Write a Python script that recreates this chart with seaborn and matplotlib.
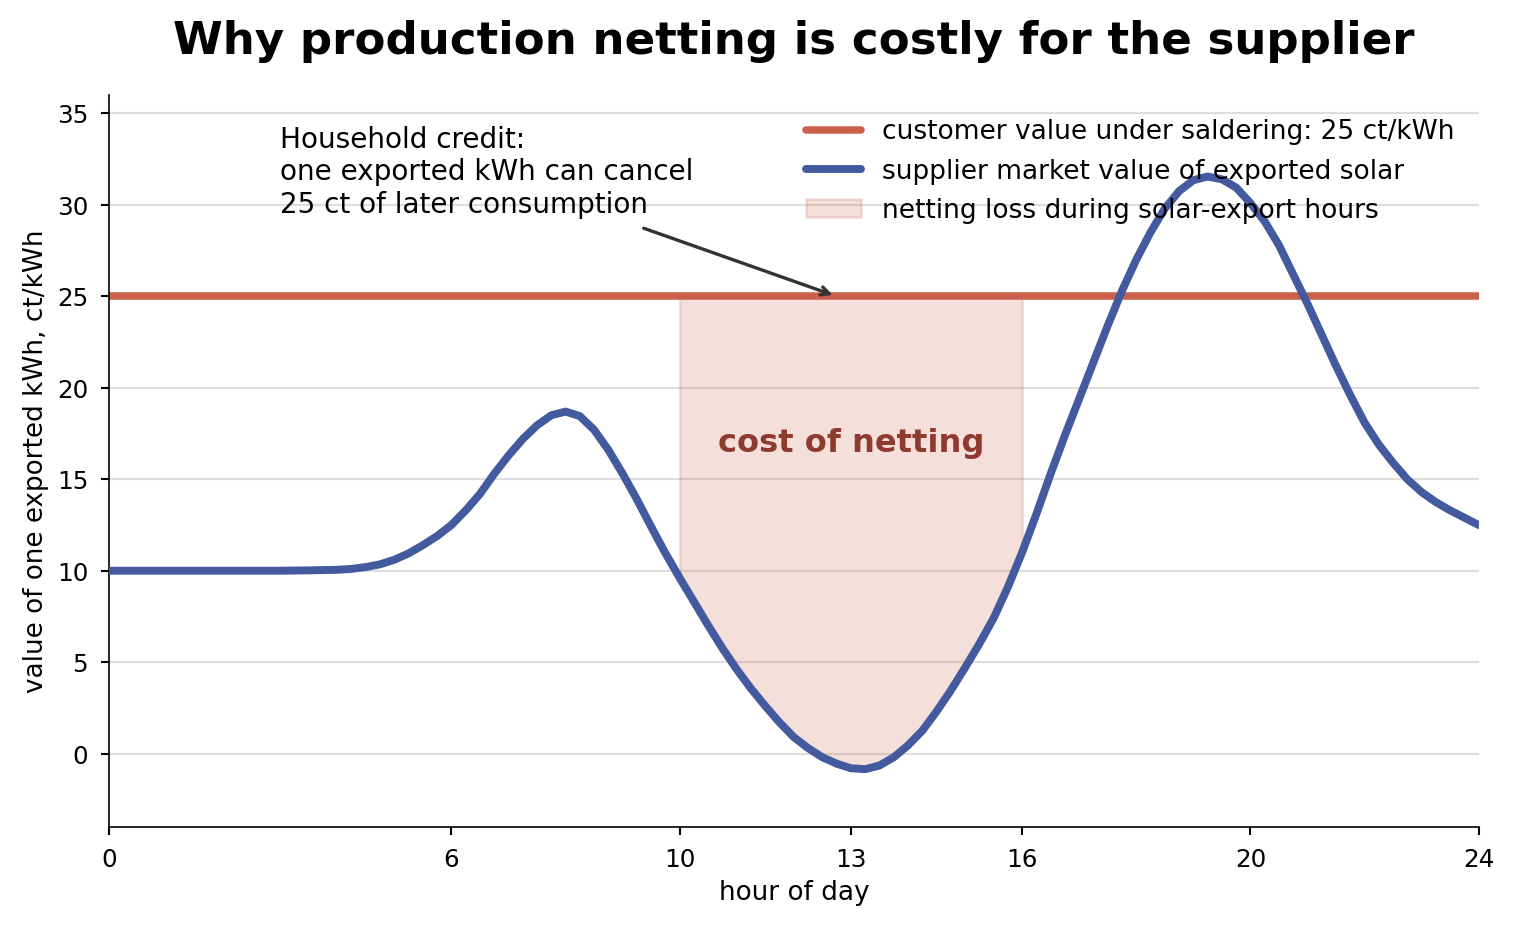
"""why production netting costs the supplier money"""

import numpy as np
import pandas as pd
import seaborn as sns
import matplotlib.pyplot as plt

# hour of day and the supplier's market value of exported solar, ct/kWh
hours = [0, 0.5, 1, 1.5, 2, 2.5, 3, 3.5,
         4, 4.25, 4.5, 4.75, 5, 5.25, 5.5, 5.75, 6, 6.25, 6.5, 6.75,
         7, 7.25, 7.5, 7.75, 8, 8.25, 8.5, 8.75, 9, 9.25, 9.5, 9.75,
         10, 10.25, 10.5, 10.75, 11, 11.25, 11.5, 11.75, 12, 12.25, 12.5, 12.75,
         13, 13.25, 13.5, 13.75, 14, 14.25, 14.5, 14.75, 15, 15.25, 15.5, 15.75,
         16, 16.25, 16.5, 16.75, 17, 17.25, 17.5, 17.75, 18, 18.25, 18.5, 18.75,
         19, 19.25, 19.5, 19.75, 20, 20.25, 20.5, 20.75, 21, 21.25, 21.5, 21.75,
         22, 22.25, 22.5, 22.75, 23, 23.25, 23.5, 23.75, 24]
market_value = [10.0, 10.0, 10.0, 10.0, 10.0, 10.0, 10.0, 10.02,
                10.05, 10.1, 10.2, 10.35, 10.6, 10.95, 11.4, 11.9, 12.5, 13.3, 14.2, 15.3,
                16.3, 17.2, 17.95, 18.5, 18.7, 18.45, 17.7, 16.6, 15.3, 13.9, 12.4, 10.95,
                9.6, 8.3, 7.0, 5.75, 4.6, 3.55, 2.6, 1.7, 0.9, 0.3, -0.2, -0.55,
                -0.8, -0.85, -0.65, -0.2, 0.45, 1.25, 2.3, 3.45, 4.7, 6.0, 7.4, 9.1,
                11.0, 13.1, 15.3, 17.4, 19.4, 21.4, 23.4, 25.3, 27.0, 28.5, 29.8, 30.75,
                31.35, 31.55, 31.4, 30.95, 30.1, 29.1, 27.8, 26.2, 24.6, 22.9, 21.2, 19.6,
                18.1, 16.9, 15.9, 15.0, 14.3, 13.75, 13.3, 12.9, 12.5]
customer_value = 25
export_start, export_end = 10, 16
x_ticks = [0, 6, 10, 13, 16, 20, 24]
y_ticks = [0, 5, 10, 15, 20, 25, 30, 35]

red = "#c8604c"
blue = "#435b9e"

sns.set_style("ticks", {"text.color": "black", "axes.labelcolor": "black",
                        "xtick.color": "black", "ytick.color": "black",
                        "axes.edgecolor": "black"})
plt.rcParams["font.family"] = ["DejaVu Sans"]

df = pd.DataFrame({"hour": hours, "value": market_value})

fig, ax = plt.subplots(figsize=(10.1, 6.19), dpi=150)
fig.subplots_adjust(left=0.072, right=0.976, top=0.897, bottom=0.109)

# netting loss area during solar-export hours
x = np.array(hours)
y = np.array(market_value)
mask = (x >= export_start) & (x <= export_end)
ax.fill_between(x, y, customer_value, where=mask, color=red, alpha=0.2,
                lw=1.2, label="netting loss during solar-export hours", zorder=1)

ax.axhline(customer_value, color=red, lw=3.6, zorder=2,
           label="customer value under saldering: 25 ct/kWh")
sns.lineplot(data=df, x="hour", y="value", ax=ax, color=blue, lw=3.8, zorder=3,
             label="supplier market value of exported solar")
ax.lines[-1].set_solid_joinstyle("round")

ax.text(13, 17, "cost of netting", ha="center", va="center", fontsize=15.4,
        fontweight="bold", color="#8e3a2e")

ax.text(3, 34.35, "Household credit:\none exported kWh can cancel\n25 ct of later consumption",
        ha="left", va="top", fontsize=13.4, linespacing=1.2)
ax.annotate("", xy=(12.75, 25), xytext=(9.3, 28.8),
            arrowprops=dict(arrowstyle="->", color="#333333", lw=1.6))

ax.set_xlim(0, 24)
ax.set_ylim(-4, 36)
ax.set_xticks(x_ticks)
ax.set_yticks(y_ticks)
ax.yaxis.grid(True, color="#dddddd", lw=1.0)
ax.set_axisbelow(True)
sns.despine(ax=ax)
ax.tick_params(labelsize=11.8, length=4, width=1, pad=6)

ax.set_xlabel("hour of day", fontsize=12.6)
ax.set_ylabel("value of one exported kWh, ct/kWh", fontsize=12.6)
ax.set_title("Why production netting is costly for the supplier", fontsize=21.7,
             fontweight="bold", pad=20)

handles, labels = ax.get_legend_handles_labels()
order = [labels.index("customer value under saldering: 25 ct/kWh"),
         labels.index("supplier market value of exported solar"),
         labels.index("netting loss during solar-export hours")]
ax.legend([handles[i] for i in order], [labels[i] for i in order], loc="upper right",
          frameon=False, fontsize=12.7, handlelength=2.1)

plt.savefig("out.png")
